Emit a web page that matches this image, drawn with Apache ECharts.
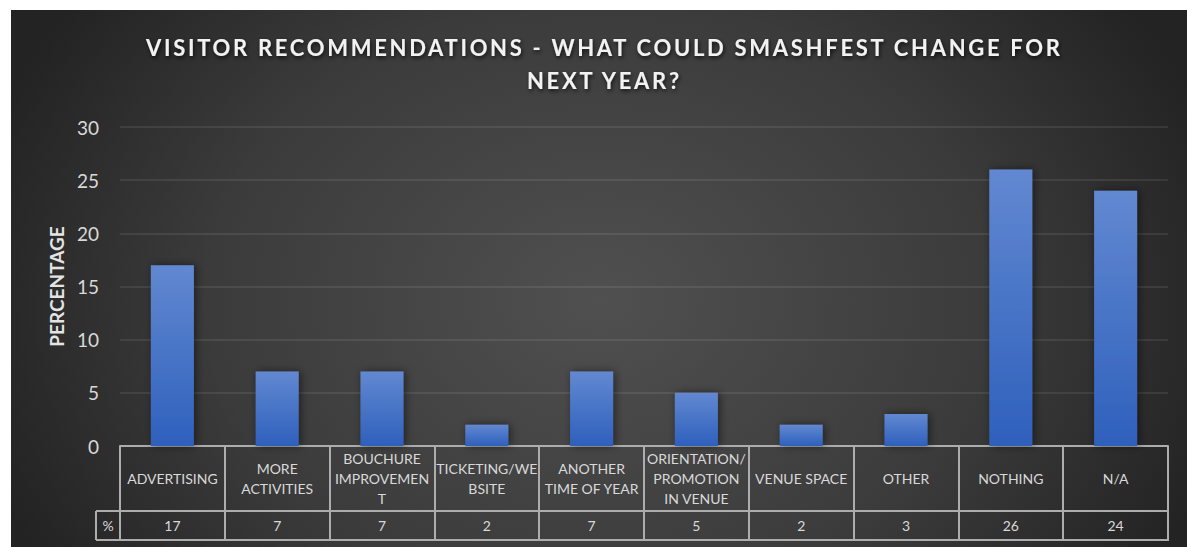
<!DOCTYPE html>
<html>
<head>
<meta charset="utf-8">
<title>Visitor recommendations</title>
<script src="https://cdn.jsdelivr.net/npm/echarts@6/dist/echarts.min.js"></script>
<style>
  html, body { margin: 0; padding: 0; background: #ffffff; }
  #main { width: 1187px; height: 547px; }
</style>
</head>
<body>
<div id="main"></div>
<script>
// ---- data ----
const titleLines = [
  'VISITOR RECOMMENDATIONS - WHAT COULD SMASHFEST CHANGE FOR',
  'NEXT YEAR?'
];
const categories = [
  'ADVERTISING',
  'MORE\nACTIVITIES',
  'BOUCHURE\nIMPROVEMEN\nT',
  'TICKETING/WE\nBSITE',
  'ANOTHER\nTIME OF YEAR',
  'ORIENTATION/\nPROMOTION\nIN VENUE',
  'VENUE SPACE',
  'OTHER',
  'NOTHING',
  'N/A'
];
const percentages = [17, 7, 7, 2, 7, 5, 2, 3, 26, 24];
const yAxisName = 'PERCENTAGE';
const yMin = 0, yMax = 30, yStep = 5;
const tableRowName = '%';

// ---- layout ----
const W = 1187, H = 547;
const frame = { x: 11, y: 10, w: W - 11, h: H - 10 };
const plot = { left: 120, right: 1168, top: 127, bottom: 446 };
const rowLine = 511;          // line between category row and value row
const tableBottom = 540;
const rowNameLeft = 96;
const titleCenterX = 603, titleWidth = 914;

const FONT = 'Lato, "Open Sans", "DejaVu Sans", sans-serif';
const TEXT = '#d9d9d9';
const TABLE_LINE = '#adadad';

// elliptical background glow, lighter in the middle
const glow = { cx: 600, cy: 300, rx: 650, ry: 500 };
const sy = glow.ry / glow.rx;

const chart = echarts.init(document.getElementById('main'), null, { renderer: 'svg', width: W, height: H });

chart.setOption({
  animation: false,
  backgroundColor: '#ffffff',
  grid: {
    left: plot.left,
    right: W - plot.right,
    top: plot.top,
    bottom: H - plot.bottom,
    containLabel: false
  },
  xAxis: [
    {
      type: 'category',
      data: categories,
      position: 'bottom',
      axisLine: { show: true, lineStyle: { color: TABLE_LINE, width: 2 } },
      axisTick: {
        show: true, interval: 0, length: tableBottom - plot.bottom,
        lineStyle: { color: TABLE_LINE, width: 2 }
      },
      axisLabel: {
        interval: 0,
        margin: (rowLine - plot.bottom) / 2,
        verticalAlign: 'middle',
        color: TEXT,
        fontFamily: FONT,
        fontSize: 14,
        lineHeight: 20
      },
      splitLine: { show: false }
    },
    {
      type: 'category',
      data: categories,
      position: 'bottom',
      offset: rowLine - plot.bottom,
      axisLine: { show: false },
      axisTick: { show: false },
      axisLabel: {
        interval: 0,
        margin: (tableBottom - rowLine) / 2,
        verticalAlign: 'middle',
        color: TEXT,
        fontFamily: FONT,
        fontSize: 14,
        formatter: (v, i) => String(percentages[i])
      },
      splitLine: { show: false }
    }
  ],
  yAxis: {
    type: 'value',
    min: yMin,
    max: yMax,
    interval: yStep,
    name: yAxisName,
    nameLocation: 'middle',
    nameGap: 52,
    nameRotate: 90,
    nameTextStyle: { color: '#e4e4e4', fontFamily: FONT, fontSize: 19, fontWeight: 700 },
    axisLine: { show: false },
    axisTick: { show: false },
    axisLabel: { color: TEXT, fontFamily: FONT, fontSize: 19, margin: 21 },
    splitLine: { lineStyle: { color: 'rgba(255,255,255,0.11)', width: 1.5 } }
  },
  series: [{
    type: 'bar',
    data: percentages,
    barWidth: 43,
    itemStyle: {
      color: {
        type: 'linear', x: 0, y: 0, x2: 0, y2: 1,
        colorStops: [
          { offset: 0, color: '#6288d1' },
          { offset: 1, color: '#2e60bc' }
        ]
      },
      shadowBlur: 8,
      shadowColor: 'rgba(0,0,0,0.5)',
      shadowOffsetX: 2,
      shadowOffsetY: 0
    }
  }],
  graphic: [
    {
      type: 'rect', z: -10, silent: true,
      x: glow.cx, y: glow.cy, scaleY: sy,
      shape: {
        x: frame.x - glow.cx,
        y: (frame.y - glow.cy) / sy,
        width: frame.w,
        height: frame.h / sy
      },
      style: {
        fill: {
          type: 'radial', x: 0, y: 0, r: glow.rx, global: true,
          colorStops: [
            { offset: 0, color: '#505050' },
            { offset: 0.6, color: '#3b3b3b' },
            { offset: 1, color: '#232323' }
          ]
        }
      }
    },
    {
      type: 'line', z: 10, silent: true,
      shape: { x1: rowNameLeft, y1: rowLine, x2: plot.right, y2: rowLine },
      style: { stroke: TABLE_LINE, lineWidth: 2 }
    },
    {
      type: 'line', z: 10, silent: true,
      shape: { x1: rowNameLeft, y1: tableBottom, x2: plot.right + 1, y2: tableBottom },
      style: { stroke: TABLE_LINE, lineWidth: 2 }
    },
    {
      type: 'line', z: 10, silent: true,
      shape: { x1: rowNameLeft, y1: rowLine, x2: rowNameLeft, y2: tableBottom },
      style: { stroke: TABLE_LINE, lineWidth: 2 }
    },
    {
      type: 'text', z: 10, silent: true,
      x: (rowNameLeft + plot.left) / 2, y: (rowLine + tableBottom) / 2,
      style: {
        text: tableRowName, fill: TEXT, fontFamily: FONT, fontSize: 14,
        align: 'center', verticalAlign: 'middle'
      }
    },
    {
      type: 'text', z: 10, silent: true,
      x: titleCenterX, y: 47,
      style: {
        text: titleLines[0], fill: '#f2f2f2', fontFamily: FONT, fontSize: 22, fontWeight: 'bold',
        align: 'center', verticalAlign: 'middle',
        textShadowColor: 'rgba(0,0,0,0.75)', textShadowBlur: 4, textShadowOffsetX: 1, textShadowOffsetY: 2
      }
    },
    {
      type: 'text', z: 10, silent: true,
      x: titleCenterX, y: 80,
      style: {
        text: titleLines[1], fill: '#f2f2f2', fontFamily: FONT, fontSize: 22, fontWeight: 'bold',
        align: 'center', verticalAlign: 'middle',
        textShadowColor: 'rgba(0,0,0,0.75)', textShadowBlur: 4, textShadowOffsetX: 1, textShadowOffsetY: 2
      }
    }
  ]
});

// Spread the title letters so the first line spans the full title width.
function spaceTitle() {
  const texts = Array.from(document.querySelectorAll('#main text'));
  const first = texts.find(t => t.textContent === titleLines[0]);
  if (!first) return;
  first.style.letterSpacing = '0px';
  const natural = first.getComputedTextLength();
  const gap = Math.max(0, (titleWidth - natural) / (titleLines[0].length - 1));
  titleLines.forEach(line => {
    const el = texts.find(t => t.textContent === line);
    if (el) {
      el.style.letterSpacing = gap + 'px';
      el.setAttribute('dx', String(gap / 2));
    }
  });
}
spaceTitle();
chart.on('finished', spaceTitle);
</script>
</body>
</html>
